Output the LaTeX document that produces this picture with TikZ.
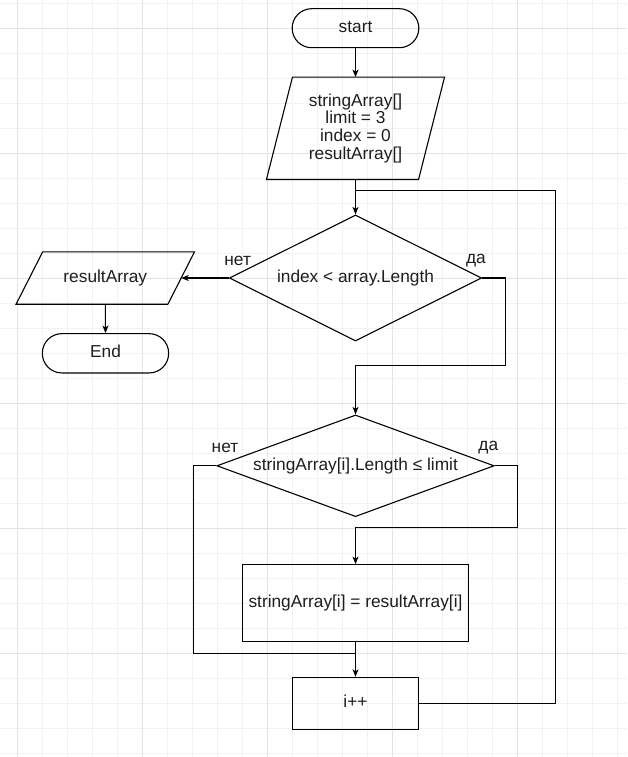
\documentclass[tikz,border=0pt]{standalone}
\usepackage{fontspec}
\setmainfont{Liberation Sans}
\usetikzlibrary{shapes.geometric,arrows.meta}
\definecolor{gridminor}{HTML}{F2F2F2}
\definecolor{gridmajor}{HTML}{E4E4E4}
\definecolor{ink}{HTML}{1E1E1E}
\tikzset{
  base/.style={draw=black, line width=1.1pt, font=\fontsize{17.3}{17.8}\selectfont, text=ink, inner sep=0pt},
  single/.style={text height=12.6pt, text depth=3.7pt},
  term/.style={base, single, rectangle, rounded corners=19.5pt, minimum width=126.7pt, minimum height=39pt},
  box/.style={base, single, rectangle},
  decis/.style={base, single, diamond},
  iotext/.style={base, draw=none, rectangle},
  lbl/.style={font=\fontsize{17.3}{17.8}\selectfont, text=ink, inner sep=0pt},
  conn/.style={line width=1.1pt, draw=black},
  arr/.style={conn, -{Stealth[length=7.5pt,width=6pt,inset=2pt]}},
  gminor/.style={draw=gridminor, line width=1pt},
  gmajor/.style={draw=gridmajor, line width=1pt},
}
\begin{document}
\begin{tikzpicture}[x=1pt,y=-1pt]
\useasboundingbox (0,0) rectangle (627,757);
\fill[white] (0,0) rectangle (627,757);
% grid
\foreach \k in {0,...,24} \draw[gminor] (17.7+25*\k,0) -- (17.7+25*\k,757);
\foreach \k in {0,...,30} \draw[gminor] (0,3.3+25*\k) -- (627,3.3+25*\k);
\foreach \k in {0,...,4} \draw[gmajor] (17.7+125*\k,0) -- (17.7+125*\k,757);
\foreach \k in {0,...,5} \draw[gmajor] (0,28.3+125*\k) -- (627,28.3+125*\k);

% nodes
\node[term] (start) at (355.5,28.2) {start};
\node[iotext, align=center, minimum width=177pt, minimum height=101.3pt] (data) at (355.5,128.3)
  {stringArray[]\\limit = 3\\index = 0\\resultArray[]};
\draw[conn] ([xshift=26pt]data.north west) -- (data.north east) -- ([xshift=-26pt]data.south east) -- (data.south west) -- cycle;
\node[decis, aspect=2, minimum width=252.4pt, minimum height=126pt] (dec1) at (355.5,278) {index < array.Length};
\node[iotext, single, minimum width=177.3pt, minimum height=51.3pt] (res) at (105.3,278) {resultArray};
\draw[conn] ([xshift=26.6pt]res.north west) -- (res.north east) -- ([xshift=-26.6pt]res.south east) -- (res.south west) -- cycle;
\node[term, minimum width=126.3pt, minimum height=39.3pt] (end) at (105.5,353.3) {End};
\node[decis, aspect=2.73, minimum width=277.3pt, minimum height=101.7pt] (dec2) at (355.5,465.8) {stringArray[i].Length ≤ limit};
\node[box, minimum width=226pt, minimum height=76.7pt] (proc) at (355.5,603) {stringArray[i] = resultArray[i]};
\node[box, minimum width=126pt, minimum height=51.7pt] (inc) at (355.5,703.2) {i++};

% labels
\node[lbl] (no1) at (237.7,260.6) {нет};
\node[lbl] (yes1) at (476,260.6) {да};
\node[lbl] (no2) at (225,447.7) {нет};
\node[lbl] (yes2) at (488.3,447.7) {да};

% helper coordinates
\coordinate (y1) at (505.5,365.3);
\coordinate (y2) at (517.5,527.7);
\coordinate (n2) at (193.5,653.3);
\coordinate (lp) at (555.5,190.5);
\coordinate (resin) at ([xshift=-13.3pt]res.east);

% connectors
\draw[arr] (start.south) -- (start.south |- data.north);
\draw[arr] (data.south) -- (dec1.north);
\draw[arr] (dec1.west) -- (resin);
\draw[arr] (res.south) -- (end.north);
\draw[arr] (dec1.east) -| (y1) -| (dec2.north);
\draw[arr] (dec2.east) -| (y2) -| (proc.north);
\draw[conn] (dec2.west) -| (n2) -- (n2 -| proc.south);
\draw[arr] (proc.south) -- (inc.north);
\draw[conn] (inc.east) -| (lp) -- (lp -| data.south);
\end{tikzpicture}
\end{document}
